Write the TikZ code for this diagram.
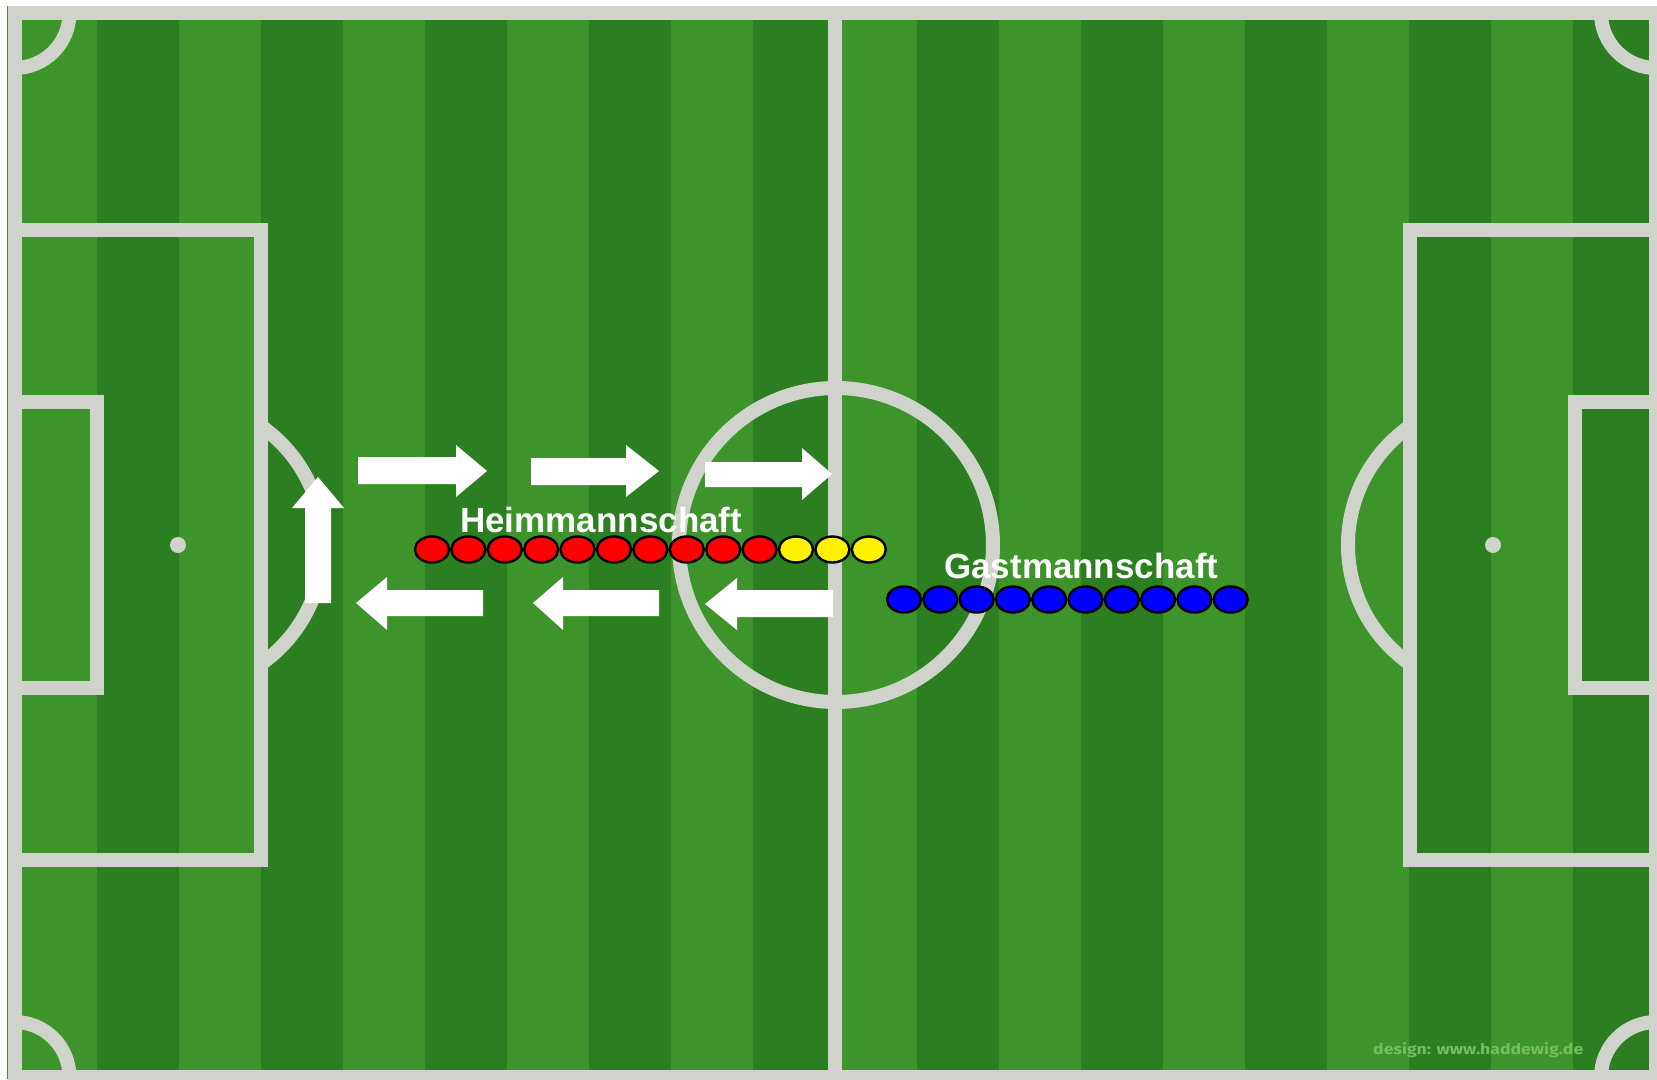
\documentclass[tikz,border=0pt]{standalone}
\usepackage{graphicx}
\usepackage{fontspec}
\setmainfont{Liberation Sans}
\newfontfamily\wmfont{Fira Sans}
\usetikzlibrary{shapes.geometric}
\definecolor{grasslight}{RGB}{60,148,42}
\definecolor{grassdark}{RGB}{44,127,32}
\definecolor{chalk}{RGB}{208,210,204}
\definecolor{wmark}{RGB}{118,190,92}
\begin{document}
\begin{tikzpicture}[x=1pt,y=-1pt,
  pitchline/.style={draw=chalk, line width=14pt},
  arrowshape/.style={fill=white, draw=none},
  player/.style={ellipse, draw=black, line width=2.4pt, minimum width=34pt, minimum height=26pt, inner sep=0pt},
  redp/.style={player, fill=red},
  yellowp/.style={player, fill=yellow},
  bluep/.style={player, fill=blue},
  teamlabel/.style={text=white, font=\fontsize{35}{40}\selectfont\bfseries, inner sep=0pt, anchor=base west}]
\useasboundingbox[fill=white] (0,0) rectangle (1657,1079);
% grass stripes
\fill[grassdark] (7,6) rectangle (1657,1079);
\foreach \i in {0,2,...,18}
  \fill[grasslight] ({14.5+82*\i},6) rectangle ({96.5+82*\i},1079);
\fill[grasslight] (7,6) rectangle (14.5,1079);
% field lines
\draw[pitchline] (14.5,13) rectangle (1656,1077);
\draw[pitchline] (835,13) -- (835,1077);
\draw[pitchline] (836,545) circle[radius=157];
\draw[pitchline] (14.5,230) rectangle (261,860);
\draw[pitchline] (1410,230) rectangle (1656,860);
\draw[pitchline] (14.5,402) rectangle (97,688);
\draw[pitchline] (1575,402) rectangle (1656,688);
\fill[chalk] (178,545) circle[radius=8];
\fill[chalk] (1493,545) circle[radius=8];
\begin{scope}
  \clip (261,0) rectangle (600,1079);
  \draw[pitchline] (178,545) circle[radius=145];
\end{scope}
\begin{scope}
  \clip (1100,0) rectangle (1410,1079);
  \draw[pitchline] (1493,545) circle[radius=145];
\end{scope}
\begin{scope}
  \clip (14.5,13) rectangle (1656,1077);
  \draw[pitchline] (14.5,13) circle[radius=55];
  \draw[pitchline] (1656,13) circle[radius=55];
  \draw[pitchline] (14.5,1077) circle[radius=55];
  \draw[pitchline] (1656,1077) circle[radius=55];
\end{scope}
% arrows
\fill[arrowshape] (358,457) -- (456,457) -- (456,445) -- (487,471) -- (456,497) -- (456,484) -- (358,484) -- cycle;
\fill[arrowshape] (531,458) -- (626,458) -- (626,445) -- (659,471) -- (626,497) -- (626,485) -- (531,485) -- cycle;
\fill[arrowshape] (705,462) -- (802,462) -- (802,448) -- (832,474) -- (802,500) -- (802,487) -- (705,487) -- cycle;
\fill[arrowshape] (483,590) -- (387,590) -- (387,577) -- (356,603) -- (387,630) -- (387,616) -- (483,616) -- cycle;
\fill[arrowshape] (659,590) -- (563,590) -- (563,577) -- (533,603) -- (563,630) -- (563,616) -- (659,616) -- cycle;
\fill[arrowshape] (833,590) -- (737,590) -- (737,578) -- (705,604) -- (737,630) -- (737,617) -- (833,617) -- cycle;
\fill[arrowshape] (305,603) -- (305,508) -- (292,508) -- (318,477) -- (344,508) -- (331,508) -- (331,603) -- cycle;
% players
\foreach \i in {0,...,9}
  \node[redp] (h\i) at ({432+36.4*\i},549.5) {};
\foreach \i in {10,11,12}
  \node[yellowp] (h\i) at ({432+36.4*\i},549.5) {};
\foreach \i in {0,...,9}
  \node[bluep] (g\i) at ({904+36.3*\i},599.5) {};
% labels
\node[teamlabel] (heim) at (460,532) {Heimmannschaft};
\node[teamlabel] (gast) at (944,578) {Gastmannschaft};
\node[anchor=base west, inner sep=0pt, text=wmark] (credit) at (1373,1054)
  {\resizebox{210pt}{12pt}{\wmfont\bfseries\fontsize{15}{15}\selectfont design: www.haddewig.de}};
\end{tikzpicture}
\end{document}
